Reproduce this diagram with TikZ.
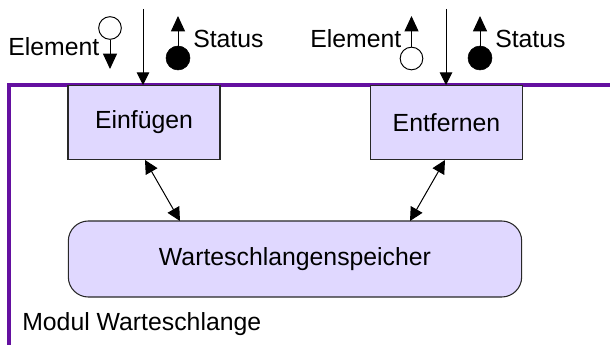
\documentclass[tikz,border=0pt]{standalone}
\usepackage{fontspec}
\setmainfont{Liberation Sans}
\usetikzlibrary{arrows.meta}

\definecolor{modulframe}{RGB}{100,16,160}
\definecolor{boxfill}{RGB}{224,216,255}
\definecolor{boxline}{RGB}{40,40,40}

\tikzset{
  lbl/.style={font=\fontsize{18.6}{22}\selectfont, inner sep=0pt},
  opbox/.style={draw=boxline, line width=0.8pt, fill=boxfill, inner sep=0pt,
    minimum width=114pt, minimum height=56pt, font=\fontsize{18.6}{22}\selectfont},
  storebox/.style={draw=boxline, line width=0.8pt, fill=boxfill, rounded corners=15pt,
    inner sep=0pt, minimum width=340pt, minimum height=57pt, font=\fontsize{18.6}{22}\selectfont},
  flow/.style={line width=0.75pt, -{Triangle[length=9.5pt,width=9.5pt]}},
  token/.style={-{Triangle[length=11.5pt,width=10.5pt]}, line width=0.75pt},
  dflow/.style={line width=0.75pt, {Triangle[length=10pt,width=10pt]}-{Triangle[length=10pt,width=10pt]}},
  emptytok/.style={circle, draw, line width=0.75pt, fill=white, minimum size=17pt, inner sep=0pt},
  fulltok/.style={circle, draw, fill=black, minimum size=18pt, inner sep=0pt}
}

\begin{document}
\begin{tikzpicture}[x=0.75pt, y=-0.75pt]
  \useasboundingbox (0,0) rectangle (610,345);

  % module frame
  \draw[modulframe, line width=3pt] (8.5,345) -- (8.5,85.5) -- (610,85.5);

  % operation boxes and queue store
  \node[opbox] (einf) at (144,122.5) {Einfügen};
  \node[opbox] (entf) at (446.5,122.5) {Entfernen};
  \node[storebox] (speicher) at (295,259) {Warteschlangenspeicher};

  % call arrows into the operations
  \coordinate (cin1) at (143,9);
  \coordinate (cin2) at (446,9);
  \draw[flow] (cin1) -- (143,85);
  \draw[flow] (cin2) -- (446,85);

  % Einfügen: element in, status out
  \node[emptytok] (elin) at (110,28) {};
  \coordinate (elinend) at (110,69);
  \draw[token] (elin.south) -- (elinend);
  \node[lbl, anchor=base west] (elinlbl) at (8,56) {Element};

  \node[fulltok] (stin) at (178,58) {};
  \coordinate (stinend) at (178,16);
  \draw[token] (stin.north) -- (stinend);
  \node[lbl, anchor=base west] (stinlbl) at (193,48) {Status};

  % Entfernen: element out, status out
  \node[emptytok] (elout) at (411.5,58.5) {};
  \coordinate (eloutend) at (411.5,16);
  \draw[token] (elout.north) -- (eloutend);
  \node[lbl, anchor=base west] (eloutlbl) at (310,48) {Element};

  \node[fulltok] (stout) at (480,58) {};
  \coordinate (stoutend) at (480,16);
  \draw[token] (stout.north) -- (stoutend);
  \node[lbl, anchor=base west] (stoutlbl) at (495,48) {Status};

  % access to the store
  \draw[dflow] (145,160) -- (180,221);
  \draw[dflow] (445,160) -- (410,221);

  % module name
  \node[lbl, anchor=base west] (modname) at (22,330) {Modul Warteschlange};
\end{tikzpicture}
\end{document}
